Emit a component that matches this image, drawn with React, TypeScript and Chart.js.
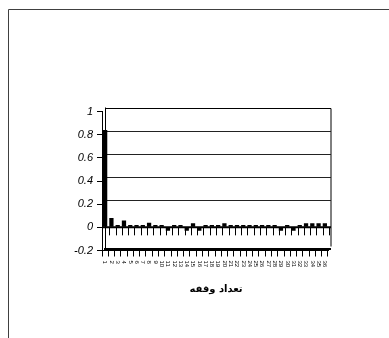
import React, { useEffect, useRef } from "react";
import { Chart, registerables } from "chart.js";

Chart.register(...registerables);

const lags: string[] = [
  "1","2","3","4","5","6","7","8","9","10","11","12","13","14","15","16","17","18",
  "19","20","21","22","23","24","25","26","27","28","29","30","31","32","33","34","35","36",
];
const acfValues: number[] = [
  0.84, 0.08, 0.02, 0.06, 0.02, 0.02, 0.02, 0.04, 0.02, 0.02, -0.03, 0.02,
  0.02, -0.03, 0.035, -0.03, 0.02, 0.02, 0.02, 0.035, 0.02, 0.02, 0.02, 0.02,
  0.02, 0.02, 0.02, 0.02, -0.03, 0.02, -0.03, 0.02, 0.035, 0.035, 0.035, 0.035,
];
const yTicks: number[] = [-0.2, 0, 0.2, 0.4, 0.6, 0.8, 1];
const xTitle = "تعداد وقفه";

const DX = 3;
const DY = -4;

const decorPlugin = {
  id: "decor",
  beforeDatasetsDraw(chart: any) {
    const { ctx, chartArea, scales } = chart;
    const y = scales.y;
    const x = scales.x;
    ctx.save();
    // back wall
    ctx.strokeStyle = "#000";
    ctx.lineWidth = 1;
    ctx.beginPath();
    ctx.moveTo(chartArea.left + DX, Math.round(chartArea.top + DY) + 0.5);
    ctx.lineTo(chartArea.right + DX, Math.round(chartArea.top + DY) + 0.5);
    ctx.lineTo(chartArea.right + DX, chartArea.bottom + DY);
    ctx.stroke();
    ctx.beginPath();
    ctx.moveTo(chartArea.left + DX + 0.5, chartArea.top + DY);
    ctx.lineTo(chartArea.left + DX + 0.5, chartArea.bottom);
    ctx.stroke();
    // gridlines on back wall
    ctx.strokeStyle = "#222";
    for (const v of yTicks) {
      if (v <= 0 || v >= 1) continue;
      const py = Math.round(y.getPixelForValue(v) + DY) + 0.5;
      ctx.beginPath();
      ctx.moveTo(chartArea.left + DX, py);
      ctx.lineTo(chartArea.right + DX, py);
      ctx.stroke();
    }
    // zero line
    const zy = y.getPixelForValue(0);
    ctx.lineWidth = 2;
    ctx.strokeStyle = "#000";
    ctx.beginPath();
    ctx.moveTo(chartArea.left, zy);
    ctx.lineTo(chartArea.right + DX, zy);
    ctx.stroke();
    // ticks below zero line at category boundaries
    ctx.lineWidth = 1;
    const n = lags.length;
    const w = (chartArea.right - chartArea.left) / n;
    for (let i = 1; i <= n; i++) {
      const px = Math.round(x.getPixelForValue(i - 1) + w / 2 + 1) + 0.5;
      ctx.beginPath();
      ctx.moveTo(px, zy);
      ctx.lineTo(px, zy + 8);
      ctx.stroke();
    }
    // floor
    ctx.lineWidth = 2;
    ctx.beginPath();
    ctx.moveTo(chartArea.left + 2, chartArea.bottom - 1.5);
    ctx.lineTo(chartArea.right + DX, chartArea.bottom - 1.5);
    ctx.stroke();
    ctx.restore();
  },
  afterDraw(chart: any) {
    const { ctx, chartArea, scales } = chart;
    const x = scales.x;
    ctx.save();
    // rotated category labels
    ctx.fillStyle = "#000";
    ctx.font = "6px 'Liberation Sans', Arial, sans-serif";
    ctx.textAlign = "left";
    ctx.textBaseline = "middle";
    lags.forEach((lab, i) => {
      const px = x.getPixelForValue(i);
      ctx.save();
      ctx.translate(px, chartArea.bottom + 10);
      ctx.rotate(Math.PI / 2);
      ctx.fillText(lab, 0, 0);
      ctx.restore();
    });
    // axis title
    ctx.font = "bold 10px 'DejaVu Sans', sans-serif";
    ctx.textAlign = "center";
    ctx.textBaseline = "middle";
    ctx.fillText(xTitle, (chartArea.left + chartArea.right) / 2 + 1, 289);
    // outer frame
    ctx.strokeStyle = "#404040";
    ctx.lineWidth = 1;
    ctx.beginPath();
    ctx.moveTo(8.5, 338);
    ctx.lineTo(8.5, 9.5);
    ctx.lineTo(389, 9.5);
    ctx.stroke();
    ctx.restore();
  },
};

export default function App() {
  const ref = useRef<HTMLCanvasElement | null>(null);
  useEffect(() => {
    if (!ref.current) return;
    const chart = new Chart(ref.current, {
      type: "bar",
      data: {
        labels: lags,
        datasets: [
          {
            data: acfValues,
            backgroundColor: "#000",
            borderColor: "#000",
            borderWidth: 0,
            barPercentage: 0.85,
            categoryPercentage: 0.8,
          },
        ],
      },
      options: {
        animation: false,
        responsive: false,
        maintainAspectRatio: false,
        devicePixelRatio: 1,
        layout: { padding: { left: 72, top: 111.5, right: 61, bottom: 77.5 } },
        plugins: { legend: { display: false }, tooltip: { enabled: false }, title: { display: false } },
        scales: {
          x: {
            offset: true,
            grid: {
              offset: true,
              drawOnChartArea: false,
              drawTicks: true,
              tickLength: 6,
              color: "#000",
            },
            border: { display: true, color: "#000", width: 1 },
            ticks: { display: false },
            afterFit: (s: any) => {
              s.height = 10;
            },
          },
          y: {
            min: -0.2,
            max: 1,
            afterBuildTicks: (s: any) => {
              s.ticks = yTicks.map((v) => ({ value: v }));
            },
            grid: {
              drawOnChartArea: false,
              drawTicks: true,
              tickLength: 5,
              color: "#000",
            },
            border: { display: true, color: "#000", width: 1 },
            ticks: {
              padding: 4,
              color: "#000",
              font: { family: "'Liberation Sans', Arial, sans-serif", size: 11, style: "italic" },
              callback: (v: any) => String(Number(Number(v).toFixed(1))),
            },
            afterFit: (s: any) => {
              s.width = 30;
            },
          },
        },
      },
      plugins: [decorPlugin],
    });
    return () => chart.destroy();
  }, []);
  return (
    <div style={{ position: "absolute", left: 0, top: 0, width: 389, height: 338, background: "#fff" }}>
      <canvas ref={ref} width={389} height={338} style={{ width: 389, height: 338, display: "block" }} />
    </div>
  );
}
